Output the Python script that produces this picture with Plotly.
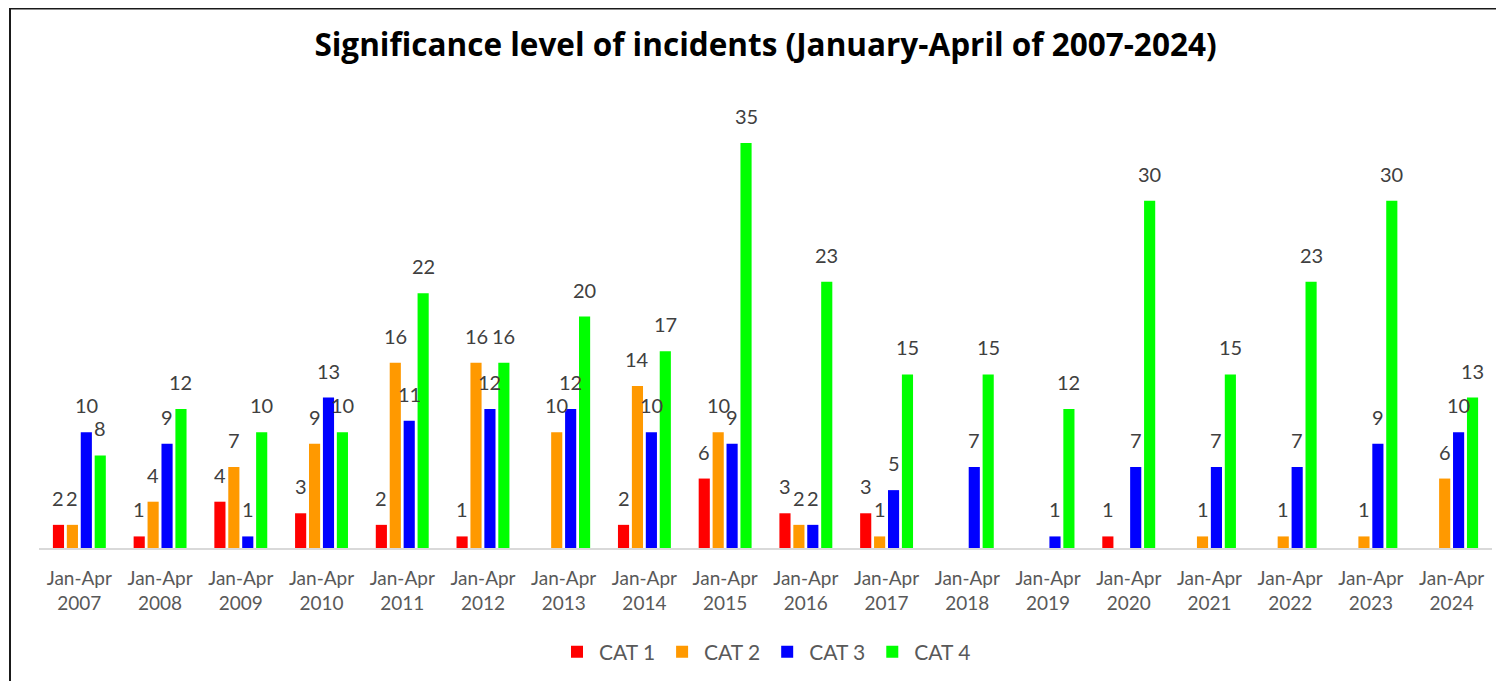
import plotly.graph_objects as go

periods = ["Jan-Apr<br>2007", "Jan-Apr<br>2008", "Jan-Apr<br>2009", "Jan-Apr<br>2010",
           "Jan-Apr<br>2011", "Jan-Apr<br>2012", "Jan-Apr<br>2013", "Jan-Apr<br>2014",
           "Jan-Apr<br>2015", "Jan-Apr<br>2016", "Jan-Apr<br>2017", "Jan-Apr<br>2018",
           "Jan-Apr<br>2019", "Jan-Apr<br>2020", "Jan-Apr<br>2021", "Jan-Apr<br>2022",
           "Jan-Apr<br>2023", "Jan-Apr<br>2024"]
cat1 = [2, 1, 4, 3, 2, 1, None, 2, 6, 3, 3, None, None, 1, None, None, None, None]
cat2 = [2, 4, 7, 9, 16, 16, 10, 14, 10, 2, 1, None, None, None, 1, 1, 1, 6]
cat3 = [10, 9, 1, 13, 11, 12, 12, 10, 9, 2, 5, 7, 1, 7, 7, 7, 9, 10]
cat4 = [8, 12, 10, 10, 22, 16, 20, 17, 35, 23, 15, 15, 12, 30, 15, 23, 30, 13]
series_names = ["CAT 1", "CAT 2", "CAT 3", "CAT 4"]
series_values = [cat1, cat2, cat3, cat4]
colors = ["#FF0000", "#FF9900", "#0000FF", "#00FF00"]

FONT = "Lato"
bargap = 0.31
W, H = 1496, 673          # page body has an 8px margin
ML, MR, MT, MB = 31, 12, 77, 133
PH = H - MT - MB
PW = W - ML - MR

fig = go.Figure()
for name, vals, col in zip(series_names, series_values, colors):
    fig.add_trace(go.Bar(x=list(range(len(periods))), y=vals, name=name, marker_color=col,
                         marker_line_width=0))

# data labels above bars
n = len(series_values)
slot = (1 - bargap) / n
annotations = []
for k, vals in enumerate(series_values):
    off = (k - (n - 1) / 2) * slot
    for i, v in enumerate(vals):
        if v is None:
            continue
        annotations.append(dict(x=i + off, y=v, xref="x", yref="y", text=str(v),
                                showarrow=False, yanchor="bottom", yshift=13,
                                font=dict(family=FONT, size=20, color="#404040")))

fig.update_layout(
    width=W, height=H,
    margin=dict(l=ML, r=MR, t=MT, b=MB, autoexpand=False),
    paper_bgcolor="white", plot_bgcolor="white",
    title=dict(text="<b>Significance level of incidents (January-April of 2007-2024)</b>",
               x=0.5, xref="paper", xanchor="center", y=1 - 37 / H, yanchor="middle",
               font=dict(family="Open Sans", size=31.5, color="#000000")),
    barmode="group", bargap=bargap, bargroupgap=0.2,
    showlegend=True,
    legend=dict(orientation="h", x=0.5, xanchor="center", y=-(644 - (MT + PH)) / PH,
                yanchor="middle",
                font=dict(family=FONT, size=21, color="#595959"), itemwidth=34,
                traceorder="normal"),
    annotations=annotations,
    shapes=[dict(type="rect", xref="paper", yref="paper",
                 x0=(2 - ML) / PW, x1=1.05, y0=-0.4, y1=(MT + PH - 0.5) / PH,
                 line=dict(color="#1a1a1a", width=2), fillcolor="rgba(0,0,0,0)", layer="above")],
)
fig.update_xaxes(tickmode="array", tickvals=list(range(len(periods))), ticktext=periods,
                 range=[-0.5, len(periods) - 0.5],
                 showline=True, linecolor="#d9d9d9", linewidth=2, showgrid=False,
                 ticks="outside", ticklen=12, tickcolor="rgba(0,0,0,0)",
                 tickfont=dict(family=FONT, size=19, color="#595959"), zeroline=False)
fig.update_yaxes(range=[0, 40], visible=False, showgrid=False, zeroline=False)

fig.write_html("out.html")
